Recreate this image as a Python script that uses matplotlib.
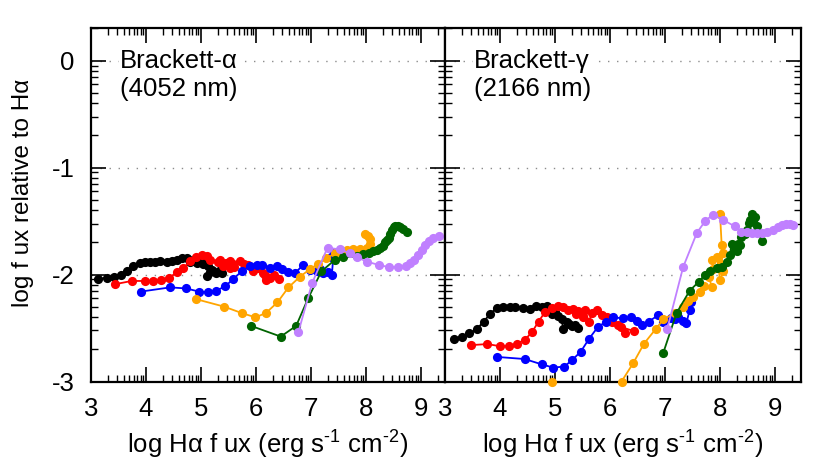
import numpy as np
import matplotlib
matplotlib.use('Agg')
import matplotlib.pyplot as plt
from matplotlib.ticker import FixedLocator, NullFormatter

plt.rcParams['font.family'] = ['Liberation Sans', 'DejaVu Sans']
plt.rcParams['mathtext.default'] = 'regular'
plt.rcParams['axes.unicode_minus'] = False

# ---------------- data: Brackett-alpha panel ----------------
black_a_x = [3.13, 3.29, 3.41, 3.54, 3.65, 3.77, 3.89, 3.98, 4.07, 4.16, 4.25, 4.38, 4.47, 4.57, 4.65, 4.74,
             4.80, 4.86, 4.92, 4.97, 5.04, 5.08, 5.13, 5.16, 5.10, 5.20, 5.28, 5.33, 5.39]
black_a_y = [-2.04, -2.03, -2.02, -2.00, -1.97, -1.92, -1.89, -1.88, -1.88, -1.88, -1.875, -1.88, -1.875, -1.865, -1.85, -1.85,
             -1.885, -1.86, -1.89, -1.87, -1.906, -1.88, -1.92, -1.98, -2.01, -1.96, -1.985, -1.97, -1.985]

red_a_x = [3.44, 3.74, 3.98, 4.13, 4.28, 4.42, 4.56, 4.68, 4.80, 4.91, 5.01, 5.10, 5.16, 5.31, 5.35, 5.40,
           5.46, 5.53, 5.58, 5.52, 5.60, 5.71, 5.78, 5.85, 5.95, 6.03, 6.13, 6.19, 6.16, 6.25, 6.32, 6.41]
red_a_y = [-2.09, -2.06, -2.06, -2.06, -2.05, -2.03, -1.98, -1.94, -1.875, -1.84, -1.82, -1.83, -1.86, -1.885, -1.86, -1.92,
           -1.89, -1.94, -1.90, -1.87, -1.93, -1.875, -1.90, -1.91, -1.97, -1.94, -1.985, -2.05, -2.00, -2.03, -2.00, -2.04]

blue_a_x = [3.90, 4.44, 4.73, 4.97, 5.13, 5.28, 5.44, 5.59, 5.74, 5.89, 6.01, 6.10, 6.25, 6.38, 6.47, 6.59,
            6.71, 6.86, 6.98, 7.10, 7.16, 7.22, 7.30, 7.38, 7.41, 7.36]
blue_a_y = [-2.16, -2.12, -2.13, -2.16, -2.165, -2.15, -2.11, -2.04, -1.97, -1.92, -1.91, -1.91, -1.94, -1.92, -1.95, -1.98,
            -1.985, -1.91, -1.96, -1.97, -1.95, -1.985, -1.98, -2.00, -1.80, -1.84]

orange_a_x = [4.91, 5.42, 5.74, 5.99, 6.18, 6.39, 6.59, 6.80, 6.98, 7.13, 7.28, 7.44, 7.53, 7.65, 7.77, 7.89,
              8.01, 8.07, 7.98, 8.03, 8.08]
orange_a_y = [-2.23, -2.30, -2.36, -2.40, -2.36, -2.26, -2.12, -2.02, -1.95, -1.90, -1.85, -1.80, -1.78, -1.77, -1.76, -1.76,
              -1.75, -1.71, -1.62, -1.64, -1.67]

green_a_x = [5.91, 6.45, 6.73, 6.95, 7.19, 7.44, 7.59, 7.83, 7.95, 8.05, 8.13, 8.20, 8.25, 8.30, 8.35, 8.38,
             8.41, 8.44, 8.47, 8.50, 8.53, 8.58, 8.62, 8.68, 8.74]
green_a_y = [-2.48, -2.58, -2.48, -2.22, -1.97, -1.86, -1.84, -1.83, -1.81, -1.80, -1.78, -1.77, -1.75, -1.73, -1.70, -1.68,
             -1.66, -1.62, -1.58, -1.56, -1.55, -1.55, -1.56, -1.57, -1.60]

purple_a_x = [6.77, 7.02, 7.30, 7.53, 7.70, 7.84, 8.02, 8.23, 8.41, 8.59, 8.72, 8.80, 8.88, 8.95, 9.01, 9.07,
              9.15, 9.22, 9.32]
purple_a_y = [-2.54, -2.08, -1.75, -1.765, -1.80, -1.84, -1.88, -1.91, -1.93, -1.93, -1.92, -1.89, -1.86, -1.82, -1.77, -1.72,
              -1.69, -1.66, -1.64]

# ---------------- data: Brackett-gamma panel ----------------
black_g_x = [3.17, 3.30, 3.44, 3.58, 3.70, 3.82, 3.94, 4.06, 4.18, 4.27, 4.42, 4.55, 4.65, 4.76, 4.85, 4.90,
             4.94, 5.00, 5.06, 5.12, 5.15, 5.21, 5.26, 5.30, 5.36, 5.42]
black_g_y = [-2.60, -2.58, -2.55, -2.51, -2.44, -2.37, -2.31, -2.30, -2.30, -2.30, -2.31, -2.32, -2.29, -2.30, -2.29, -2.33,
             -2.37, -2.35, -2.39, -2.42, -2.51, -2.44, -2.46, -2.48, -2.47, -2.50]

red_g_x = [3.47, 3.77, 4.00, 4.17, 4.30, 4.45, 4.58, 4.70, 4.82, 4.94, 5.06, 5.15, 5.24, 5.33, 5.42, 5.38,
           5.50, 5.55, 5.61, 5.68, 5.76, 5.85, 5.95, 6.03, 6.15, 6.27, 6.20, 6.44]
red_g_y = [-2.66, -2.65, -2.67, -2.67, -2.65, -2.61, -2.54, -2.44, -2.35, -2.31, -2.29, -2.30, -2.33, -2.32, -2.34, -2.37,
           -2.40, -2.33, -2.44, -2.36, -2.33, -2.38, -2.40, -2.44, -2.47, -2.545, -2.49, -2.53]

blue_g_x = [3.94, 4.45, 4.76, 4.97, 5.17, 5.31, 5.47, 5.62, 5.78, 5.93, 6.06, 6.24, 6.39, 6.49, 6.58, 6.70,
            6.88, 6.97, 7.10, 7.18, 7.24, 7.33, 7.39, 7.45, 7.48]
blue_g_y = [-2.77, -2.79, -2.84, -2.87, -2.86, -2.80, -2.72, -2.60, -2.49, -2.44, -2.40, -2.41, -2.40, -2.43, -2.47, -2.44,
            -2.38, -2.44, -2.41, -2.42, -2.40, -2.43, -2.45, -2.33, -2.26]

orange_g_x = [4.94, 5.40, 5.80, 6.21, 6.42, 6.62, 6.83, 6.97, 7.18, 7.33, 7.42, 7.51, 7.64, 7.70, 7.85, 7.80,
              7.88, 7.85, 7.95, 8.00, 8.06, 8.02, 8.06, 8.03, 8.00]
orange_g_y = [-3.00, -3.12, -3.15, -3.00, -2.83, -2.645, -2.51, -2.42, -2.36, -2.30, -2.25, -2.21, -2.16, -2.11, -2.12, -2.02,
              -1.95, -1.86, -1.84, -2.05, -1.97, -1.90, -1.80, -1.72, -1.43]

green_g_x = [6.97, 7.21, 7.45, 7.61, 7.73, 7.82, 7.94, 8.03, 8.12, 8.18, 8.21, 8.27, 8.33, 8.30, 8.39, 8.36,
             8.45, 8.49, 8.52, 8.55, 8.58, 8.64, 8.60, 8.67, 8.76]
green_g_y = [-2.73, -2.36, -2.15, -2.07, -2.00, -1.97, -1.94, -1.93, -1.88, -1.82, -1.71, -1.77, -1.71, -1.78, -1.65, -1.72,
             -1.62, -1.58, -1.52, -1.49, -1.43, -1.46, -1.50, -1.55, -1.69]

purple_g_x = [7.04, 7.33, 7.58, 7.73, 7.87, 8.06, 8.27, 8.39, 8.49, 8.58, 8.67, 8.76, 8.85, 8.97, 9.06, 9.12,
              9.20, 9.27, 9.33]
purple_g_y = [-2.51, -1.93, -1.61, -1.50, -1.44, -1.49, -1.55, -1.60, -1.60, -1.61, -1.615, -1.61, -1.60, -1.58, -1.56, -1.54,
              -1.53, -1.53, -1.535]

colors = ['#000000', '#ff0000', '#0000ff', '#ffa500', '#006400', '#c080ff']

panel_a = [(black_a_x, black_a_y), (red_a_x, red_a_y), (blue_a_x, blue_a_y),
           (orange_a_x, orange_a_y), (green_a_x, green_a_y), (purple_a_x, purple_a_y)]
panel_g = [(black_g_x, black_g_y), (red_g_x, red_g_y), (blue_g_x, blue_g_y),
           (orange_g_x, orange_g_y), (green_g_x, green_g_y), (purple_g_x, purple_g_y)]

panel_labels = ['Brackett-α\n(4052 nm)', 'Brackett-γ\n(2166 nm)']
xticks = [3, 4, 5, 6, 7, 8, 9]
yticks = [0, -1, -2, -3]
xlabel = 'log Hα f ux (erg s$^{\u20101}$ cm$^{\u20102}$)'
ylabel = 'log f ux relative to Hα'

FS = 18.5
W, H = 830, 472
fig = plt.figure(figsize=(W / 100, H / 100), dpi=100)
ylim = (-3.0, 0.305)
ax1 = fig.add_axes([91 / W, 1 - 381.5 / H, 354 / W, 353.5 / H])
ax2 = fig.add_axes([445 / W, 1 - 381.5 / H, 356 / W, 353.5 / H])
xlims = [(3.0, 3.0 + 354 / 55.0), (3.0, 3.0 + 356 / 55.0)]

minor_x = [n + np.log10(k) for n in range(3, 10) for k in range(2, 10)]
minor_y = [n + np.log10(k) for n in range(-3, 1) for k in range(2, 10)]

for i, (ax, panel) in enumerate(zip([ax1, ax2], [panel_a, panel_g])):
    ax.set_xlim(*xlims[i])
    ax.set_ylim(*ylim)
    for g in [0, -1, -2]:
        ax.axhline(g, color='#8c8c8c', ls=(0, (1, 5.5)), lw=1.0, zorder=0)
    for j, ((x, y), c) in enumerate(zip(panel, colors)):
        x = np.asarray(x); y = np.asarray(y)
        ax.plot(x, y, '-', color=c, lw=1.3, zorder=2 + j)
        m = (y >= ylim[0] - 0.01) & (y <= ylim[1])
        ax.plot(x[m], y[m], 'o', ms=6.6, color=c, mec=c, mew=0, zorder=2 + j, clip_on=False)
    ax.xaxis.set_major_locator(FixedLocator(xticks))
    ax.yaxis.set_major_locator(FixedLocator(yticks))
    ax.xaxis.set_minor_locator(FixedLocator(minor_x))
    ax.yaxis.set_minor_locator(FixedLocator(minor_y))
    ax.xaxis.set_minor_formatter(NullFormatter())
    ax.yaxis.set_minor_formatter(NullFormatter())
    ax.tick_params(which='both', direction='in', top=True, right=True, labelsize=FS)
    ax.tick_params(which='major', length=11, width=1.2, pad=11)
    ax.tick_params(which='minor', length=5, width=1.0)
    ax.tick_params(axis='y', pad=12)
    for s in ax.spines.values():
        s.set_linewidth(1.6)
    ax.set_xlabel(xlabel, fontsize=FS, labelpad=6)
    ax.text(0.082, 0.94, panel_labels[i], transform=ax.transAxes, ha='left', va='top',
            fontsize=FS, linespacing=1.2, zorder=10,
            bbox=dict(facecolor='white', edgecolor='none', pad=1.0))
    if i == 1:
        ax.tick_params(labelleft=False)

fig.text(23 / W, 1 - 193 / H, ylabel, rotation=90, ha='center', va='center', fontsize=17.5)

fig.savefig('out.png', dpi=100)
